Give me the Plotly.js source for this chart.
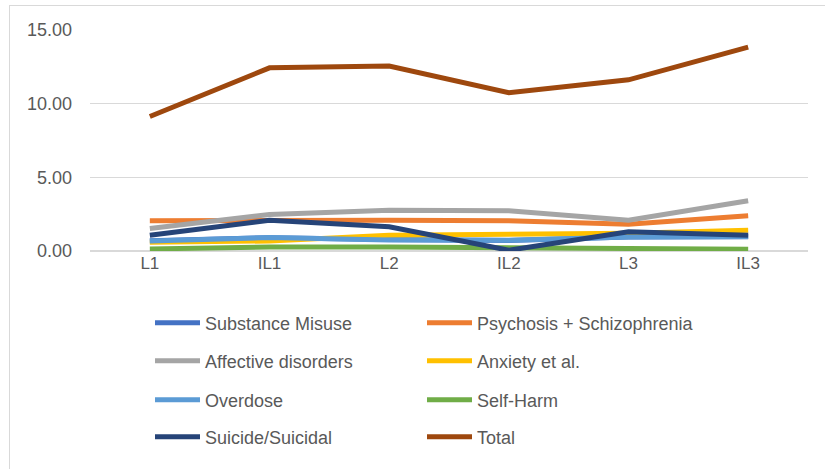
<!DOCTYPE html>
<html>
<head>
<meta charset="utf-8">
<script src="https://cdn.plot.ly/plotly-3.0.1.min.js"></script>
<style>
  html, body { margin: 0; padding: 0; background: #ffffff; }
  #frame { position: absolute; left: 9px; top: 5px; width: 830px; height: 470px; border: 1.5px solid #d9d9d9; box-sizing: border-box; }
  #chart { position: absolute; left: 0; top: 0; width: 825px; height: 469px; }
</style>
</head>
<body>
<div id="frame"></div>
<div id="chart"></div>
<script>
const categories = ["L1", "IL1", "L2", "IL2", "L3", "IL3"];
const substanceMisuse = [0.70, 0.90, 0.78, 0.72, 0.95, 0.97];
const psychosis = [2.05, 2.09, 2.09, 2.05, 1.82, 2.39];
const affective = [1.53, 2.48, 2.77, 2.73, 2.09, 3.41];
const anxiety = [0.60, 0.68, 1.07, 1.14, 1.20, 1.41];
const overdose = [0.68, 0.91, 0.75, 0.73, 0.95, 0.98];
const selfHarm = [0.14, 0.27, 0.27, 0.20, 0.14, 0.12];
const suicide = [1.07, 2.09, 1.64, 0.05, 1.30, 1.07];
const total = [9.13, 12.43, 12.55, 10.75, 11.62, 13.84];
const tickVals = [0, 5, 10, 15];
const tickText = ["0.00", "5.00", "10.00", "15.00"];

const seriesNames = ["Substance Misuse", "Psychosis + Schizophrenia", "Affective disorders", "Anxiety et al.", "Overdose", "Self-Harm", "Suicide/Suicidal", "Total"];
const seriesValues = [substanceMisuse, psychosis, affective, anxiety, overdose, selfHarm, suicide, total];
const seriesColors = ["#4472C4", "#ED7D31", "#A5A5A5", "#FFC000", "#5B9BD5", "#70AD47", "#264478", "#9E480E"];
const legendIds = ["legend", "legend", "legend2", "legend2", "legend3", "legend3", "legend4", "legend4"];

const font = "Liberation Sans, Arial, sans-serif";
const traces = seriesNames.map((n, i) => ({
  type: "scatter", mode: "lines", name: n, x: categories, y: seriesValues[i],
  line: { color: seriesColors[i], width: 5 },
  legend: legendIds[i], hoverinfo: "skip"
}));

function leg(yPix) {
  return {
    orientation: "h", xref: "container", yref: "container",
    x: 150 / 825, y: 1 - yPix / 469, yanchor: "middle", xanchor: "left",
    entrywidth: 212, entrywidthmode: "pixels", itemwidth: 45,
    font: { family: font, size: 18, color: "#595959" },
    bgcolor: "rgba(0,0,0,0)", traceorder: "normal"
  };
}

const layout = {
  width: 825, height: 469,
  margin: { l: 90, r: 17, t: 30, b: 218 },
  paper_bgcolor: "rgba(0,0,0,0)", plot_bgcolor: "rgba(0,0,0,0)",
  font: { family: font, color: "#595959", size: 17 },
  xaxis: {
    type: "category", range: [-0.5, 5.5], showgrid: false, zeroline: false,
    showline: false, ticks: "", tickfont: { family: font, size: 17, color: "#595959" }
  },
  yaxis: {
    range: [0, 15], tickvals: tickVals, ticktext: tickText, showgrid: true,
    gridcolor: "#d9d9d9", gridwidth: 1.3, zeroline: true, zerolinecolor: "#d9d9d9", zerolinewidth: 1.3,
    ticklabelstandoff: 17, tickfont: { family: font, size: 18, color: "#595959" }
  },
  legend: leg(323), legend2: leg(361), legend3: leg(400), legend4: leg(437),
  showlegend: true
};

Plotly.newPlot("chart", traces, layout, { displayModeBar: false, staticPlot: true });
</script>
</body>
</html>
